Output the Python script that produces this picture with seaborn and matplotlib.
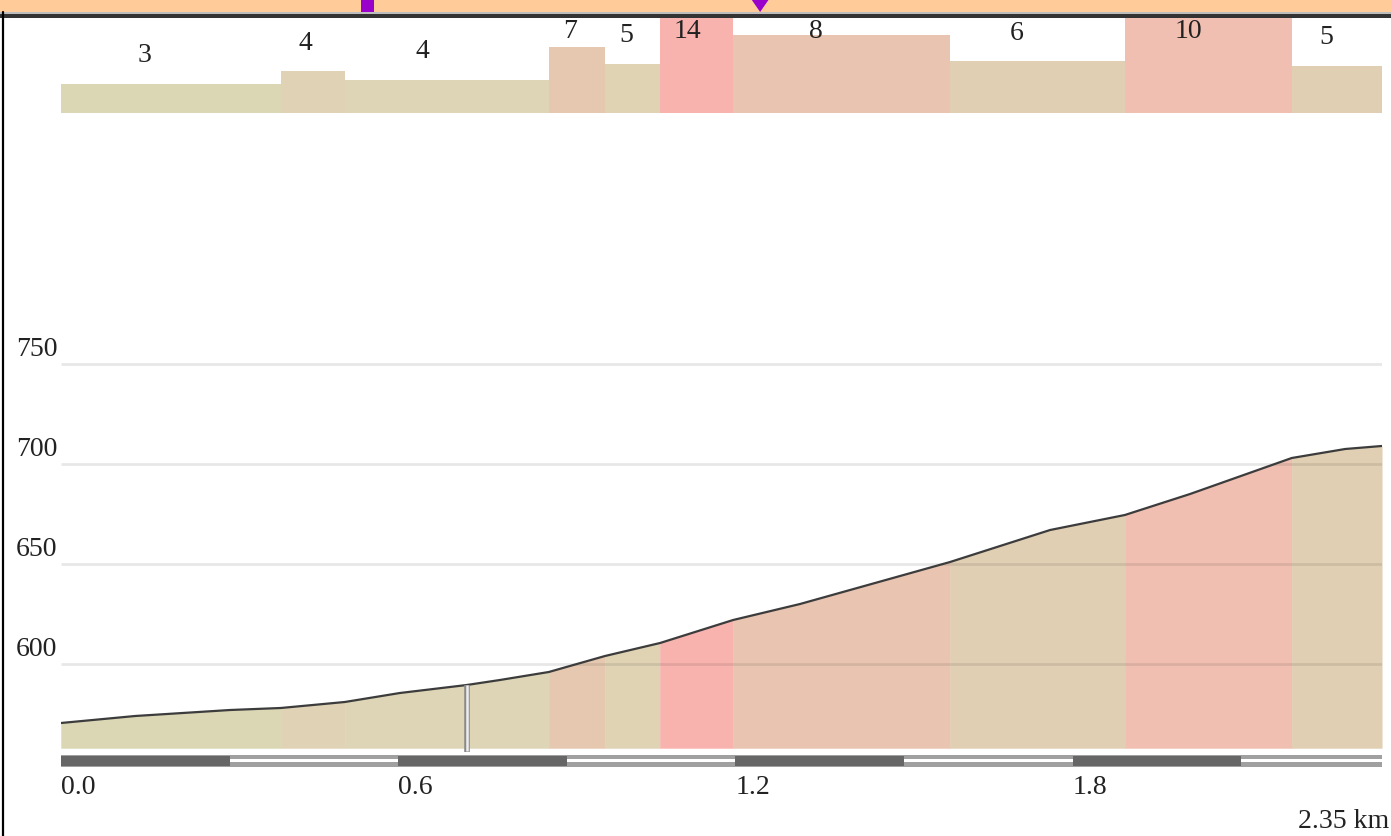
import numpy as np
import seaborn as sns
import matplotlib
matplotlib.use("Agg")
import matplotlib.pyplot as plt
from matplotlib.patches import Rectangle, Polygon
from matplotlib.lines import Line2D
from matplotlib.transforms import blended_transform_factory

# elevation profile: distance (km) / elevation (m)
dist_km = [0.0, 0.132, 0.301, 0.391, 0.505, 0.603, 0.722, 0.781, 0.868, 0.968,
           1.066, 1.196, 1.315, 1.582, 1.760, 1.893, 2.009, 2.190, 2.285, 2.35]
elev_m = [570.5, 574, 577, 578, 581, 585.5, 589.5, 592, 596, 604,
          610.5, 622, 630, 651, 667, 674.5, 685, 703, 707.5, 709]

# gradient segments
seg_start = [0.0, 0.391, 0.505, 0.868, 0.968, 1.066, 1.196, 1.582, 1.893, 2.190]
total_km = 2.35
grade_pct = [2.9, 4.2, 3.3, 6.6, 4.9, 14.0, 7.8, 5.2, 10.4, 4.7]
grade_label = ["3", "4", "4", "7", "5", "14", "8", "6", "10", "5"]
seg_colors = ["#dbd6b4", "#e0d2b4", "#ddd5b5", "#e6c8b0", "#dfd3b4",
              "#f9b3af", "#e9c5b1", "#e1cfb3", "#f0bfb1", "#e0cfb2"]

y_ticks = [600, 650, 700, 750]
x_ticks = [0.0, 0.6, 1.2, 1.8]
x_tick_labels = ["0.0", "0.6", "1.2", "1.8"]
total_label = "2.35 km"
marker_km = 0.722   # position marker on the profile
pin_km = 0.545      # purple markers in the top band
arrow_km = 1.244

sns.set_theme(style="white")
plt.rcParams['font.family'] = ['Liberation Serif', 'DejaVu Serif']

W, H = 1391, 836
X0 = 61
KM_PX = 562
BASE = 558  # elevation at the bottom of the profile
FS = 20

fig = plt.figure(figsize=(W / 100, H / 100), dpi=100)
fig.patch.set_facecolor("white")


def add_ax(top, bottom, left=X0, right=X0 + total_km * KM_PX):
    a = fig.add_axes([left / W, 1 - bottom / H, (right - left) / W, (bottom - top) / H])
    a.set_axis_off()
    return a


seg_end = seg_start[1:] + [total_km]
widths = [e - s for s, e in zip(seg_start, seg_end)]
d = np.array(dist_km)
el = np.array(elev_m)

# ---- main profile
ax = add_ax(120, 748)
ax.set_xlim(0, total_km)
ax.set_ylim(BASE, BASE + (748 - 120) / 2)

for s, e, c in zip(seg_start, seg_end, seg_colors):
    xs = np.concatenate([[s], d[(d > s) & (d < e)], [e]])
    ys = np.interp(xs, d, el)
    ax.fill_between(xs, BASE, ys, color=c, lw=0.3, edgecolor=c, zorder=1)

ax.hlines(y_ticks, 0, total_km, color="k", alpha=0.1, lw=2, zorder=3)
sns.lineplot(x=dist_km, y=elev_m, ax=ax, color="#3c3c3c", linewidth=1.6, zorder=4)

m_el = np.interp(marker_km, d, el)
ax.vlines(marker_km, BASE - 2, m_el, color="#8a8a8a", lw=4, zorder=5, clip_on=False)
ax.vlines(marker_km, BASE - 1.5, m_el, color="#eeeeee", lw=1.8, zorder=6, clip_on=False)

ytrans = blended_transform_factory(fig.transFigure, ax.transData)
for v in y_ticks:
    ax.text(16 / W, v + 7.5, str(v), transform=ytrans, ha="left", va="center",
            fontsize=FS, color="#222222")

xtrans = blended_transform_factory(ax.transData, fig.transFigure)
for k, lbl in zip(x_ticks, x_tick_labels):
    ax.text(k, 1 - 787 / H, lbl, transform=xtrans, ha="left", va="center",
            fontsize=FS, color="#222222", clip_on=False)
fig.text(1389 / W, 1 - 822 / H, total_label, ha="right", va="center",
         fontsize=FS, color="#222222")

# ---- distance scale bar
sb = add_ax(755, 767)
sb.set_xlim(0, total_km)
sb.set_ylim(0, 1)
sb.barh(0.5, total_km, height=1, left=0, color="#a0a0a0", lw=0)
sb.barh(0.55, total_km, height=0.3, left=0, color="white", lw=0)
starts = np.arange(0, total_km, 0.3)[::2]
sb.barh(0.5, 0.3, height=0.84, left=starts, color="#666666", lw=0)

# ---- gradient bars
ga = add_ax(18, 113)
ga.set_xlim(0, total_km)
ga.set_ylim(0, 9.5)
ga.bar(seg_start, grade_pct, width=widths, align="edge", color=seg_colors, lw=0)
for s, w, h, lbl in zip(seg_start, widths, grade_pct, grade_label):
    ga.text(s + 0.38 * w, min(h + 2.8, 8.2), lbl, ha="center", va="center",
            fontsize=FS, color="#222222", clip_on=True)

# ---- top band
band = fig.add_axes([0, 1 - 18 / H, 1, 18 / H])
band.set_axis_off()
band.set_xlim(-X0 / KM_PX, (W - X0) / KM_PX)
band.set_ylim(18, 0)
band.axhspan(0, 12, color="#ffcc99", lw=0)
band.axhspan(12, 14, color="#bdbdbd", lw=0)
band.axhspan(14, 18, color="#333333", lw=0)
band.add_patch(Rectangle((pin_km - 6.5 / KM_PX, 0), 13 / KM_PX, 11.5, color="#9900cc", lw=0))
band.add_patch(Polygon([(arrow_km - 9 / KM_PX, -1), (arrow_km + 9 / KM_PX, -1), (arrow_km, 12)],
                       closed=True, color="#9900cc", lw=0))

fig.add_artist(Line2D([2.5 / W, 2.5 / W], [0, 1 - 12 / H], color="black", lw=1.6))

fig.savefig("out.png", dpi=100)
